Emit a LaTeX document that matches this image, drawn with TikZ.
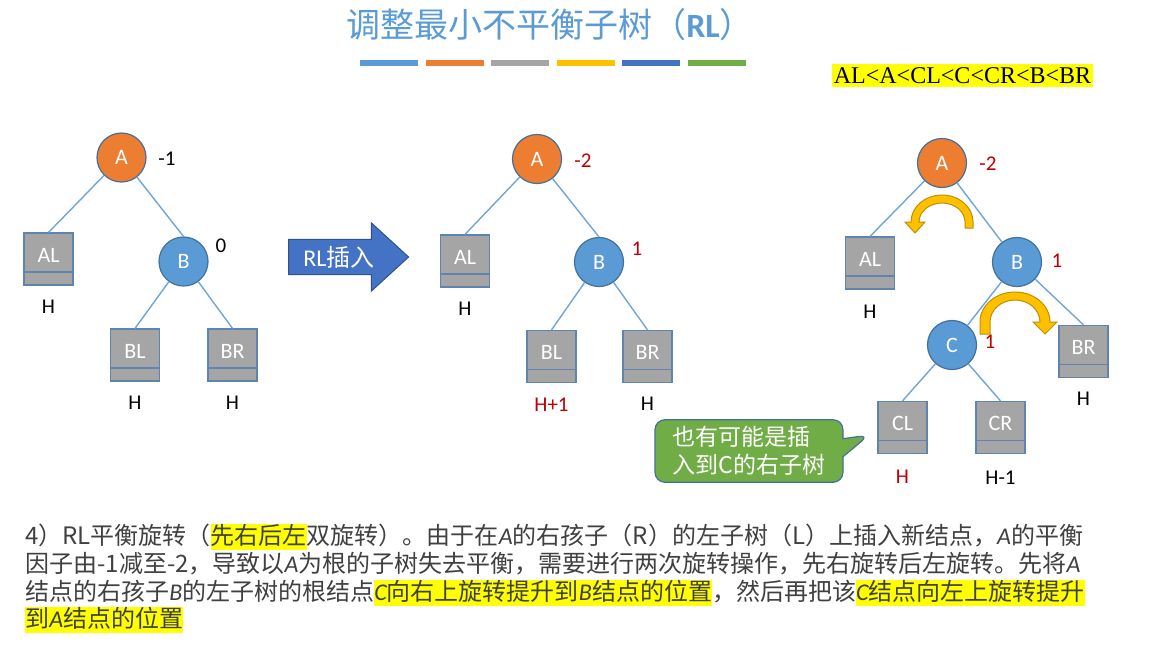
\documentclass[tikz,border=0pt]{standalone}
\usepackage{fontspec}
\setmainfont{Carlito}
\newfontfamily\cjk{Noto Sans CJK SC}
\newfontfamily\timesf{Liberation Serif}
\usetikzlibrary{shapes.geometric, shapes.arrows, shapes.callouts, arrows.meta, positioning}
\definecolor{titleblue}{HTML}{5B9BD5}
\definecolor{barblue}{HTML}{5B9BD5}
\definecolor{barorange}{HTML}{ED7D31}
\definecolor{bargray}{HTML}{A5A5A5}
\definecolor{bargold}{HTML}{FFC000}
\definecolor{bardeep}{HTML}{4472C4}
\definecolor{bargreen}{HTML}{70AD47}
\definecolor{nodeorange}{HTML}{ED7D31}
\definecolor{nodeblue}{HTML}{5B9BD5}
\definecolor{circline}{HTML}{41719C}
\definecolor{boxgray}{HTML}{A5A5A5}
\definecolor{boxline}{HTML}{5F84B0}
\definecolor{edgeblue}{HTML}{6FA5D8}
\definecolor{valred}{HTML}{C00000}
\definecolor{txtgray}{HTML}{404040}
\definecolor{hlyellow}{HTML}{FFFF00}
\definecolor{arrowblue}{HTML}{4472C4}
\definecolor{arrowline}{HTML}{2F528F}
\definecolor{rotgold}{HTML}{FFC000}
\definecolor{rotline}{HTML}{BF9000}
\definecolor{notegreen}{HTML}{70AD47}
\definecolor{noteline}{HTML}{41719C}
\newcommand{\hlt}[1]{{\setlength{\fboxsep}{0pt}\colorbox{hlyellow}{\rule[-3pt]{0pt}{12.5pt}#1}}}
\newcommand{\vn}[1]{{\rmfamily\itshape #1}}

\begin{document}
\begin{tikzpicture}[x=0.5pt, y=-0.5pt,
  ttl/.style={text=titleblue, inner sep=0pt, font=\cjk\fontsize{17pt}{20pt}\selectfont},
  ordbox/.style={fill=hlyellow, inner xsep=1pt, inner ysep=0pt, minimum height=11.5pt,
                 font=\timesf\fontsize{12pt}{14pt}\selectfont},
  vtx/.style={circle, minimum size=24.5pt, inner sep=0pt, draw=circline,
              line width=0.6pt, text=white, font=\fontsize{11pt}{13pt}\selectfont},
  subtree/.style={rectangle, minimum width=24.5pt, minimum height=26pt, inner sep=0pt,
              fill=boxgray, draw=boxline, line width=0.6pt,
              path picture={\draw[boxline, line width=0.6pt]
                ([yshift=6.5pt]path picture bounding box.south west) --
                ([yshift=6.5pt]path picture bounding box.south east);},
              label={[subtxt]center:#1}},
  subtxt/.style={text=white, inner sep=0pt, yshift=2pt, font=\fontsize{11pt}{13pt}\selectfont},
  bal/.style={inner sep=0pt, font=\fontsize{10.5pt}{12pt}\selectfont},
  hlab/.style={inner sep=0pt, font=\fontsize{10.5pt}{12pt}\selectfont},
  link/.style={draw=edgeblue, line width=0.7pt},
  insarrow/.style={single arrow, fill=arrowblue, draw=arrowline, line width=0.5pt,
              minimum height=60pt, inner sep=3pt, single arrow head extend=8.25pt,
              single arrow tip angle=85, text=white, font=\fontsize{12pt}{14pt}\selectfont},
  rot/.style={fill=rotgold, draw=rotline, line width=0.5pt},
  callbox/.style={rectangle callout, rounded corners=5pt, fill=notegreen, draw=noteline,
              line width=0.6pt, minimum width=94pt, minimum height=31pt, align=left,
              callout pointer width=9pt, text=white, font=\cjk\fontsize{11.5pt}{14pt}\selectfont},
  para/.style={anchor=base west, inner sep=0pt, text=txtgray,
              font=\cjk\fontsize{12pt}{14pt}\selectfont},
]
  \useasboundingbox[fill=white] (0,0) rectangle (1165,649);

  % title
  \node[ttl] (title) at (550,25) {调整最小不平衡子树（{\rmfamily\bfseries RL}）};
  \foreach \c [count=\i from 0] in {barblue,barorange,bargray,bargold,bardeep,bargreen}
    \fill[\c] (360+65.6*\i,59.5) rectangle ++(58,6);
  \node[ordbox] (ord) at (962.5,75.5) {AL<A<CL<C<CR<B<BR};

  % tree before insertion
  \node[vtx, fill=nodeorange] (A1) at (121.5,157.5) {A};
  \node[subtree=AL] (AL1) at (48.5,259) {};
  \node[vtx, fill=nodeblue] (B1) at (183.5,261.5) {B};
  \node[subtree=BL] (BL1) at (135,355) {};
  \node[subtree=BR] (BR1) at (232.5,355) {};
  \node[bal] (bA1) at (167,159) {-1};
  \node[bal] (bB1) at (221,246) {0};
  \node[hlab, below=7pt of AL1] (hAL1) {H};
  \node[hlab, below=7pt of BL1] (hBL1) {H};
  \node[hlab, below=7pt of BR1] (hBR1) {H};
  \draw[link] (A1) -- (AL1.north);
  \draw[link] (A1) -- (B1.north);
  \draw[link] (B1) -- (BL1.north);
  \draw[link] (B1) -- (BR1.north);

  \node[insarrow] (ins) at (339,257) {RL{\cjk 插入}};

  % after insertion
  \node[vtx, fill=nodeorange] (A2) at (537,159) {A};
  \node[subtree=AL] (AL2) at (465,261) {};
  \node[vtx, fill=nodeblue] (B2) at (599,262) {B};
  \node[subtree=BL] (BL2) at (551.5,356.5) {};
  \node[subtree=BR] (BR2) at (647.5,356.5) {};
  \node[bal, valred] (bA2) at (583,161) {-2};
  \node[bal, valred] (bB2) at (637,249) {1};
  \node[hlab, below=7pt of AL2] (hAL2) {H};
  \node[hlab, valred, below=7pt of BL2] (hBL2) {H+1};
  \node[hlab, below=7pt of BR2] (hBR2) {H};
  \draw[link] (A2) -- (AL2.north);
  \draw[link] (A2) -- (B2.north);
  \draw[link] (B2) -- (BL2.north);
  \draw[link] (B2) -- (BR2.north);

  % expanded BL and the two rotations
  \node[vtx, fill=nodeorange] (A3) at (942,163) {A};
  \node[subtree=AL] (AL3) at (870,263) {};
  \node[vtx, fill=nodeblue] (B3) at (1017,262) {B};
  \node[vtx, fill=nodeblue] (C3) at (952,345) {C};
  \node[subtree=BR] (BR3) at (1083.5,351.5) {};
  \node[subtree=CL] (CL3) at (902.5,427.5) {};
  \node[subtree=CR] (CR3) at (1000.5,427.5) {};
  \node[bal, valred] (bA3) at (988,164) {-2};
  \node[bal, valred] (bB3) at (1057,261) {1};
  \node[hlab, below=7.5pt of AL3] (hAL3) {H};
  \node[hlab, below=7pt of BR3] (hBR3) {H};
  \node[hlab, valred, below=8pt of CL3] (hCL3) {H};
  \node[hlab, below=8pt of CR3] (hCR3) {H-1};
  \draw[link] (A3) -- (AL3.north);
  \draw[link] (A3) -- (B3);
  \draw[link] (B3) -- (C3);
  \draw[link] (B3) -- (BR3.north);
  \draw[link] (C3) -- (CL3.north);
  \draw[link] (C3) -- (CR3.north);

  \draw[rot] (973,228) -- (973,222) arc[start angle=0, end angle=-180, x radius=31, y radius=27]
    -- (905,222) -- (915,233) -- (925,222) -- (919,222)
    arc[start angle=-180, end angle=0, x radius=23, y radius=19] -- (965,228) -- cycle;
  \draw[rot] (980,334) -- (980,322) arc[start angle=180, end angle=360, x radius=35, y radius=30]
    -- (1057,322) -- (1045,334) -- (1033,322) -- (1040,322)
    arc[start angle=0, end angle=-180, x radius=25, y radius=22] -- (990,334) -- cycle;
  \node[bal, valred] (bC3) at (990,342) {1};

  \coordinate (tipend) at (869,435);
  \node[callbox, callout absolute pointer={(tipend)}] (tip) at (749,451) {也有可能是插\\入到C的右子树};

  % explanation
  \node[para] (t1) at (25,544) {4）RL平衡旋转（\hlt{先右后左}双旋转）。由于在\vn{A}的右孩子（R）的左子树（L）上插入新结点，\vn{A}的平衡};
  \node[para] (t2) at (25,572) {因子由-1减至-2，导致以\vn{A}为根的子树失去平衡，需要进行两次旋转操作，先右旋转后左旋转。先将\vn{A}};
  \node[para] (t3) at (25,600) {结点的右孩子\vn{B}的左子树的根结点\hlt{\vn{C}向右上旋转提升到\vn{B}结点的位置}，然后再把该\hlt{\vn{C}结点向左上旋转提升}};
  \node[para] (t4) at (25,627) {\hlt{到\vn{A}结点的位置}};
\end{tikzpicture}
\end{document}
